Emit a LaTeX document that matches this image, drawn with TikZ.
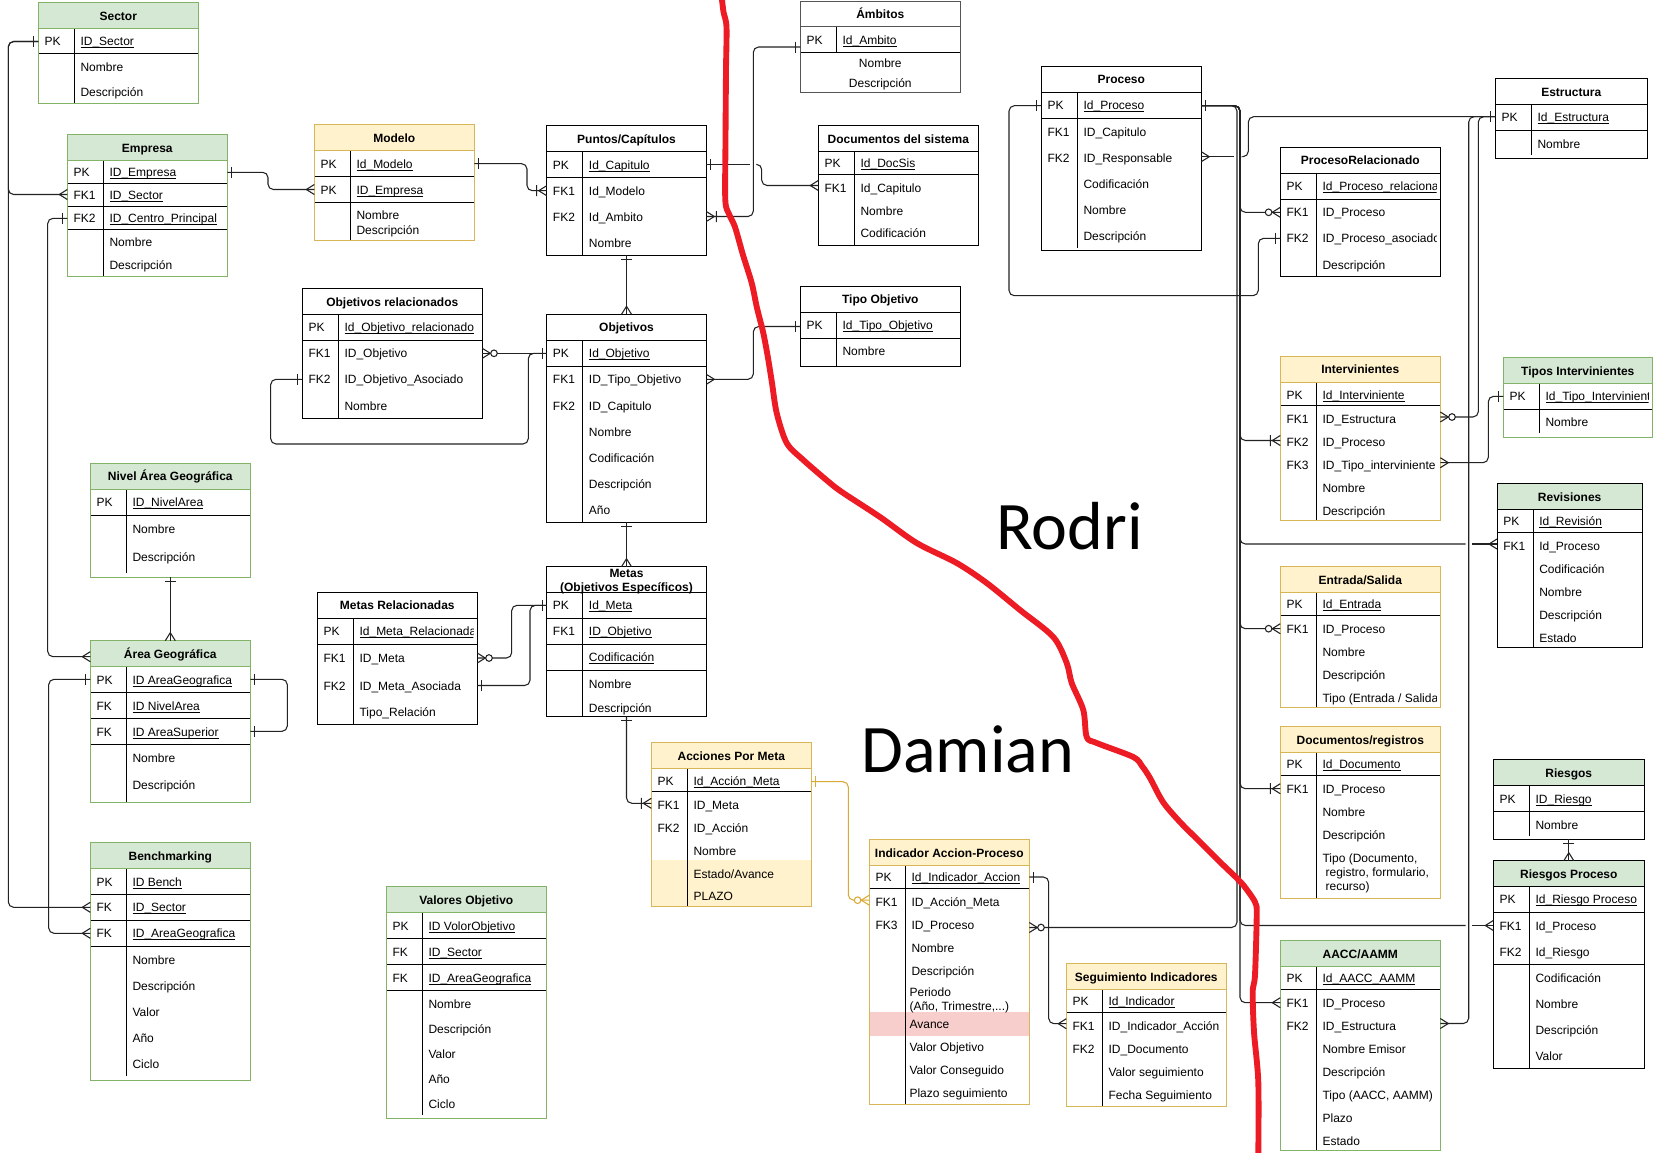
\documentclass[tikz,border=0pt]{standalone}
\usepackage{fontspec}
\setmainfont{Liberation Sans}
\newfontfamily\bigfont{Carlito}
\usetikzlibrary{fit}
\definecolor{grnF}{HTML}{D5E8D4}
\definecolor{grnS}{HTML}{82B366}
\definecolor{ylwF}{HTML}{FFF2CC}
\definecolor{ylwS}{HTML}{D6B656}
\definecolor{pnkF}{HTML}{F8CECC}
\definecolor{cc}{HTML}{222222}
\definecolor{goldC}{HTML}{D9A933}
\definecolor{redL}{HTML}{ED1C24}
\definecolor{ambC}{HTML}{555555}
\newcounter{nd}
\newcommand\erNode[3]{\stepcounter{nd}\node[#1] (n\arabic{nd}) at #2 {#3};}
\newcommand\erUl[1]{\underline{\smash{#1}}}
\newcommand\erRow[3]{\erNode{fld}{({\eL+6},{#1+4.5})}{#2}\erNode{fld}{({\eL+42},{#1+4.5})}{#3}}
\newcommand\erRowU[3]{\erRow{#1}{#2}{\erUl{#3}}}
\newcommand\erClip[4]{\erNode{fld}{({\eL+6},{#1+4.5})}{#2}\begin{scope}\clip ({\eL+38},{#1-14}) rectangle (#4,{#1+14});\erNode{fld}{({\eL+42},{#1+4.5})}{#3}\end{scope}}
\newcommand\erTxt[3]{\erNode{fld}{(#1,{#2+4.5})}{#3}}
\newcommand\erSep[1]{\draw[sepl] (\eL,#1) -- (\eR,#1);}
\newcommand\erEnt[9]{%
 \def\eL{#2}\def\eR{#4}\def\divend{#5}%
 \fill[white] (#2,#3) rectangle (#4,#5);
 \path[#7head] (#2,#3) rectangle (#4,#6);
 \node[fit={(#2,#3)(#4,#5)}, inner sep=0pt, outer sep=0pt] (#1) {};
 \node[ttl] (#1-t) at ({(#2+#4)/2},{(#3+#6)/2+4.5}) {#8};
 #9
 \draw[sepl] ({#2+36},#6) -- ({#2+36},\divend);
 \draw[#7border, line width=0.75pt] (#2,#6) -- (#4,#6);
 \draw[#7border, line width=0.75pt] (#2,#3) rectangle (#4,#5);
}
\tikzset{
 fld/.style={anchor=base west, inner sep=0pt, font=\fontsize{9}{11}\selectfont},
 fldc/.style={anchor=base, inner sep=0pt, font=\fontsize{9}{11}\selectfont},
 ttl/.style={anchor=base, inner sep=0pt, font=\fontsize{9}{11}\selectfont\bfseries},
 sepl/.style={draw=black, line width=0.75pt},
 Gborder/.style={draw=grnS}, Ghead/.style={fill=grnF},
 Yborder/.style={draw=ylwS}, Yhead/.style={fill=ylwF},
 Kborder/.style={draw=black}, Khead/.style={fill=white},
 Aborder/.style={draw=ambC}, Ahead/.style={fill=white},
 Rborder/.style={draw=black}, Rhead/.style={fill=grnF},
 conn/.style={draw=cc, line width=0.8pt, rounded corners=4pt},
 connG/.style={draw=goldC, line width=0.8pt, rounded corners=4pt},
 pk/.style={color=cc, line width=0.8pt},
 pkG/.style={color=goldC, line width=0.8pt},
 redline/.style={draw=redL, line width=4.4pt, line cap=round, line join=round},
 pics/one/.style={code={\draw (-4.5,-5.5)--(-4.5,5.5);}},
 pics/many/.style={code={\draw (-8,0)--(0,-5) (-8,0)--(0,5);}},
 pics/zmany/.style={code={\draw (-8,0)--(0,-5) (-8,0)--(0,5); \filldraw[fill=white] (-11.7,0) circle[radius=3.3];}},
 pics/omany/.style={code={\draw (-8,0)--(0,-5) (-8,0)--(0,5) (-10,-5.5)--(-10,5.5);}},
}
\begin{document}
\begin{tikzpicture}[x=0.75pt,y=-0.75pt]
\useasboundingbox (0,0) rectangle (1653,1153);
\fill[white] (0,0) rectangle (1653,1153);

% ---------------- tables ----------------
\erEnt{sector}{38.3}{2.7}{198.3}{103.3}{28.7}{G}{Sector}{%
 \erRowU{41}{PK}{ID\_Sector}\erSep{53.3}\erRow{66.7}{}{Nombre}\erRow{91.7}{}{Descripción}}

\erEnt{empresa}{67.3}{134.7}{227.3}{276}{160.7}{G}{Empresa}{%
 \erRowU{172}{PK}{ID\_Empresa}\erSep{183.3}\erRowU{195}{FK1}{ID\_Sector}\erSep{206.7}%
 \erRowU{218}{FK2}{ID\_Centro\_Principal}\erSep{229.3}\erRow{241.7}{}{Nombre}\erRow{264.7}{}{Descripción}}

\erEnt{modelo}{314.3}{124.7}{474.3}{240}{150.7}{Y}{Modelo}{%
 \erRowU{163.7}{PK}{Id\_Modelo}\erSep{176.7}\erRowU{189.5}{PK}{ID\_Empresa}\erSep{202.3}%
 \erRow{215.3}{}{Nombre}\erRow{229.5}{}{Descripción}}

\erEnt{puntos}{546.7}{125.7}{706.3}{255.3}{151.7}{K}{Puntos/Capítulos}{%
 \erRowU{164.5}{PK}{Id\_Capitulo}\erSep{177.3}\erRow{190.7}{FK1}{Id\_Modelo}%
 \erRow{216.7}{FK2}{Id\_Ambito}\erRow{242.7}{}{Nombre}}

\erEnt{ambitos}{800.3}{1.5}{960.3}{92.7}{26.7}{A}{Ámbitos}{%
 \def\divend{52.3}\erRowU{39.5}{PK}{Id\_Ambito}\erSep{52.3}%
 \erNode{fldc}{(880.3,{63.3+4.5})}{Nombre}\erNode{fldc}{(880.3,{83.3+4.5})}{Descripción}}

\erEnt{docsis}{818.3}{125.7}{978.3}{245.7}{151.7}{K}{Documentos del sistema}{%
 \erRowU{163}{PK}{Id\_DocSis}\erSep{174.3}\erRow{187.7}{FK1}{Id\_Capitulo}%
 \erRow{210.7}{}{Nombre}\erRow{233.3}{}{Codificación}}

\erEnt{tipoobj}{800.3}{286.3}{960.3}{366.7}{312.3}{K}{Tipo Objetivo}{%
 \erRowU{325.3}{PK}{Id\_Tipo\_Objetivo}\erSep{338.3}\erRow{351.3}{}{Nombre}}

\erEnt{objrel}{302.3}{288.7}{482.3}{418.3}{314.3}{K}{Objetivos relacionados}{%
 \erRowU{327.3}{PK}{Id\_Objetivo\_relacionado}\erSep{340.3}\erRow{353.3}{FK1}{ID\_Objetivo}%
 \erRow{379.3}{FK2}{ID\_Objetivo\_Asociado}\erRow{405.7}{}{Nombre}}

\erEnt{objetivos}{546.7}{314.3}{706.3}{522.3}{340.3}{K}{Objetivos}{%
 \erRowU{353.3}{PK}{Id\_Objetivo}\erSep{366.3}\erRow{379.3}{FK1}{ID\_Tipo\_Objetivo}%
 \erRow{405.7}{FK2}{ID\_Capitulo}\erRow{431.7}{}{Nombre}\erRow{457.7}{}{Codificación}%
 \erRow{483.7}{}{Descripción}\erRow{509.7}{}{Año}}

\erEnt{metas}{546.7}{566.7}{706.3}{716.3}{592.3}{K}{}{%
 \node[ttl] (metas-t1) at (626.5,{572.7+4.3}) {Metas};
 \node[ttl] (metas-t2) at (626.5,{586.7+4.3}) {(Objetivos Específicos)};
 \erRowU{605.3}{PK}{Id\_Meta}\erSep{618.3}\erRowU{631.3}{FK1}{ID\_Objetivo}\erSep{644.3}%
 \erRowU{657.3}{}{Codificación}\erSep{670.3}\erRow{683.7}{}{Nombre}\erRow{708.2}{}{Descripción}}

\erEnt{metasrel}{317.3}{592.3}{477.3}{724}{618.3}{K}{Metas Relacionadas}{%
 \erClip{631.3}{PK}{\erUl{Id\_Meta\_Relacionada}}{473.3}\erSep{644.3}%
 \erRow{657.7}{FK1}{ID\_Meta}\erRow{685.7}{FK2}{ID\_Meta\_Asociada}\erRow{711.7}{}{Tipo\_Relación}}

\erEnt{nivel}{90.3}{463.3}{250.3}{577.3}{489.3}{G}{Nivel Área Geográfica}{%
 \def\divend{572.7}\erRowU{502.3}{PK}{ID\_NivelArea}\erSep{515.3}%
 \erRow{528.7}{}{Nombre}\erRow{556.7}{}{Descripción}}

\erEnt{area}{90.3}{640.7}{250.3}{802.3}{666.7}{G}{Área Geográfica}{%
 \erRowU{679.7}{PK}{ID AreaGeografica}\erSep{692.7}\erRowU{705.7}{FK}{ID NivelArea}\erSep{718.7}%
 \erRowU{731.7}{FK}{ID AreaSuperior}\erSep{744.7}\erRow{757.7}{}{Nombre}\erRow{785.2}{}{Descripción}}

\erEnt{bench}{90.3}{842.7}{250.3}{1080.3}{868.7}{G}{Benchmarking}{%
 \def\divend{1076}\erRowU{881.5}{PK}{ID Bench}\erSep{894.3}\erRowU{907.3}{FK}{ID\_Sector}\erSep{920.3}%
 \erRowU{933.3}{FK}{ID\_AreaGeografica}\erSep{946.3}\erRow{959.7}{}{Nombre}\erRow{985.7}{}{Descripción}%
 \erRow{1011.7}{}{Valor}\erRow{1037.7}{}{Año}\erRow{1063.7}{}{Ciclo}}

\erEnt{valores}{386.3}{886.7}{546.3}{1118.3}{912.7}{G}{Valores Objetivo}{%
 \def\divend{1115}\erRowU{925.7}{PK}{ID VolorObjetivo}\erSep{938.7}\erRowU{951.7}{FK}{ID\_Sector}\erSep{964.7}%
 \erRowU{977.7}{FK}{ID\_AreaGeografica}\erSep{990.7}\erRow{1003.7}{}{Nombre}\erRow{1028.7}{}{Descripción}%
 \erRow{1053.7}{}{Valor}\erRow{1078.7}{}{Año}\erRow{1103.7}{}{Ciclo}}

\erEnt{acciones}{651.3}{742.7}{811.3}{906.3}{768.3}{Y}{Acciones Por Meta}{%
 \fill[ylwF] (\eL,860.3) rectangle (\eR,906.3);
 \erRowU{780.5}{PK}{Id\_Acción\_Meta}\erSep{791.3}\erRow{804.7}{FK1}{ID\_Meta}\erRow{827.7}{FK2}{ID\_Acción}%
 \erRow{850.7}{}{Nombre}\erRow{873.7}{}{Estado/Avance}\erRow{896.3}{}{PLAZO}}

\erEnt{indicador}{869.3}{839.7}{1029.3}{1104.3}{865.7}{Y}{Indicador Accion-Proceso}{%
 \fill[pnkF] (\eL,1012.3) rectangle (\eR,1035.7);
 \erRowU{877.2}{PK}{Id\_Indicador\_Accion}\erSep{888.7}\erRow{901.7}{FK1}{ID\_Acción\_Meta}%
 \erRow{924.7}{FK3}{ID\_Proceso}\erRow{947.7}{}{Nombre}\erRow{970.7}{}{Descripción}%
 \erTxt{909.3}{991.7}{Periodo}\erTxt{909.3}{1005.7}{(Año, Trimestre,...)}%
 \erTxt{909.3}{1023.7}{Avance}\erTxt{909.3}{1046.7}{Valor Objetivo}%
 \erTxt{909.3}{1069.7}{Valor Conseguido}\erTxt{909.3}{1092.7}{Plazo seguimiento}}

\erEnt{seguim}{1066.3}{963.7}{1226.3}{1106.3}{989.7}{Y}{Seguimiento Indicadores}{%
 \erRowU{1001.2}{PK}{Id\_Indicador}\erSep{1012.7}\erRow{1025.7}{FK1}{ID\_Indicador\_Acción}%
 \erRow{1048.7}{FK2}{ID\_Documento}\erRow{1071.7}{}{Valor seguimiento}\erRow{1094.7}{}{Fecha Seguimiento}}

\erEnt{proceso}{1041.3}{66.3}{1201.3}{250}{92.3}{K}{Proceso}{%
 \def\divend{248}\erRowU{105.3}{PK}{Id\_Proceso}\erSep{118.3}\erRow{131.7}{FK1}{ID\_Capitulo}%
 \erRow{157.7}{FK2}{ID\_Responsable}\erRow{183.7}{}{Codificación}\erRow{209.7}{}{Nombre}\erRow{235.7}{}{Descripción}}

\erEnt{procrel}{1280.3}{147.3}{1440.3}{276}{173.3}{K}{ProcesoRelacionado}{%
 \erClip{186.3}{PK}{\erUl{Id\_Proceso\_relacionado}}{1436.5}\erSep{199.3}\erRow{212.3}{FK1}{ID\_Proceso}%
 \erClip{238.3}{FK2}{ID\_Proceso\_asociado}{1436.5}\erRow{264.7}{}{Descripción}}

\erEnt{estructura}{1495.3}{78.7}{1647.3}{158.3}{104.3}{K}{Estructura}{%
 \def\divend{155}\erRowU{117.3}{PK}{Id\_Estructura}\erSep{130.3}\erRow{143.7}{}{Nombre}}

\erEnt{interv}{1280.3}{356.3}{1440.3}{520.3}{382.3}{Y}{Intervinientes}{%
 \erRowU{395}{PK}{Id\_Interviniente}\erSep{405.3}\erRow{418.7}{FK1}{ID\_Estructura}%
 \erRow{441.7}{FK2}{ID\_Proceso}\erRow{464.7}{FK3}{ID\_Tipo\_interviniente}%
 \erRow{487.7}{}{Nombre}\erRow{510.7}{}{Descripción}}

\erEnt{tiposint}{1503.3}{357.7}{1652.3}{437}{383.3}{G}{Tipos Intervinientes}{%
 \def\divend{433}\erClip{396.3}{PK}{\erUl{Id\_Tipo\_Interviniente}}{1648.5}\erSep{409.7}\erRow{422.3}{}{Nombre}}

\erEnt{revis}{1497}{483.7}{1642.3}{647}{509.7}{R}{Revisiones}{%
 \erRowU{521.2}{PK}{Id\_Revisión}\erSep{532.7}\erRow{545.7}{FK1}{Id\_Proceso}\erRow{568.7}{}{Codificación}%
 \erRow{591.7}{}{Nombre}\erRow{614.7}{}{Descripción}\erRow{637.7}{}{Estado}}

\erEnt{entrada}{1280.3}{566.7}{1440.3}{707.3}{592.3}{Y}{Entrada/Salida}{%
 \erRowU{603.8}{PK}{Id\_Entrada}\erSep{615.3}\erRow{628.7}{FK1}{ID\_Proceso}\erRow{651.7}{}{Nombre}%
 \erRow{674.7}{}{Descripción}\erClip{697.7}{}{Tipo (Entrada / Salida)}{1436.7}}

\erEnt{docreg}{1280.3}{726.7}{1440.3}{898.3}{752.3}{Y}{Documentos/registros}{%
 \erRowU{763.8}{PK}{Id\_Documento}\erSep{775.3}\erRow{788.7}{FK1}{ID\_Proceso}\erRow{811.7}{}{Nombre}%
 \erRow{834.7}{}{Descripción}\erTxt{1322.3}{857.7}{Tipo (Documento,}%
 \erTxt{1325.3}{871.7}{registro, formulario,}\erTxt{1325.3}{885.7}{recurso)}}

\erEnt{riesgos}{1493.3}{759.3}{1644.3}{839.3}{785.7}{R}{Riesgos}{%
 \def\divend{836}\erRowU{798.7}{PK}{ID\_Riesgo}\erSep{811.7}\erRow{824.7}{}{Nombre}}

\erEnt{riesgosp}{1493.3}{860.7}{1644.3}{1068.3}{886.3}{R}{Riesgos Proceso}{%
 \erRowU{899.3}{PK}{Id\_Riesgo Proceso}\erSep{912.3}\erRow{925.7}{FK1}{Id\_Proceso}%
 \erRow{951.7}{FK2}{Id\_Riesgo}\erSep{964.7}\erRow{977.7}{}{Codificación}\erRow{1003.7}{}{Nombre}%
 \erRow{1029.7}{}{Descripción}\erRow{1055.7}{}{Valor}}

\erEnt{aacc}{1280.3}{940.7}{1440.3}{1150.3}{966.3}{G}{AACC/AAMM}{%
 \erRowU{978}{PK}{Id\_AACC\_AAMM}\erSep{989.7}\erRow{1002.7}{FK1}{ID\_Proceso}\erRow{1025.7}{FK2}{ID\_Estructura}%
 \erRow{1048.7}{}{Nombre Emisor}\erRow{1071.7}{}{Descripción}\erRow{1094.7}{}{Tipo (AACC, AAMM)}%
 \erRow{1117.7}{}{Plazo}\erRow{1140.7}{}{Estado}}

% ---------------- connectors ----------------
% Sector
\draw[conn] (sector.west |- 0,41.5) -- (8.3,41.5) -- (8.3,194.5) -- (empresa.west |- 0,194.5);
\draw[conn] (sector.west |- 0,41.5) -- (8.3,41.5) -- (8.3,907.3) -- (bench.west |- 0,907.3);
\pic[pk] at (sector.west |- 0,41.5) {one};
\pic[pk] at (empresa.west |- 0,194.5) {many};
\pic[pk] at (bench.west |- 0,907.3) {many};
% Empresa FK2 -> Area
\draw[conn] (empresa.west |- 0,218.3) -- (47.7,218.3) -- (47.7,656.7) -- (area.west |- 0,656.7);
\pic[pk] at (empresa.west |- 0,218.3) {one};
\pic[pk] at (area.west |- 0,656.7) {many};
% Area PK -> Bench
\draw[conn] (area.west |- 0,679.3) -- (48.7,679.3) -- (48.7,933.3) -- (bench.west |- 0,933.3);
\pic[pk] at (area.west |- 0,679.3) {one};
\pic[pk] at (bench.west |- 0,933.3) {many};
% Area self
\draw[conn] (area.east |- 0,679.3) -- (287.3,679.3) -- (287.3,731.3) -- (area.east |- 0,731.3);
\pic[pk,rotate=180] at (area.east |- 0,679.3) {one};
\pic[pk,rotate=180] at (area.east |- 0,731.3) {one};
% Nivel - Area
\draw[conn] (nivel.south) -- (area.north);
\pic[pk,rotate=90] at (nivel.south) {one};
\pic[pk,rotate=-90] at (area.north) {many};
% Empresa - Modelo
\draw[conn] (empresa.east |- 0,172.3) -- (268,172.3) -- (268,189.5) -- (modelo.west |- 0,189.5);
\pic[pk,rotate=180] at (empresa.east |- 0,172.3) {one};
\pic[pk] at (modelo.west |- 0,189.5) {many};
% Modelo - Puntos
\draw[conn] (modelo.east |- 0,163.7) -- (527,163.7) -- (527,190.7) -- (puntos.west |- 0,190.7);
\pic[pk,rotate=180] at (modelo.east |- 0,163.7) {one};
\pic[pk] at (puntos.west |- 0,190.7) {omany};
% Puntos - Documentos del sistema
\draw[conn] (puntos.east |- 0,164.3) -- (750.3,164.3);
\draw[conn] (756.3,164.3) -- (761.7,164.3) -- (761.7,185.5) -- (docsis.west |- 0,185.5);
\pic[pk,rotate=180] at (puntos.east |- 0,164.3) {one};
\pic[pk] at (docsis.west |- 0,185.5) {many};
% Ambitos - Puntos
\draw[conn] (ambitos.west |- 0,47) -- (753.3,47) -- (753.3,216.5) -- (puntos.east |- 0,216.5);
\pic[pk] at (ambitos.west |- 0,47) {one};
\pic[pk,rotate=180] at (puntos.east |- 0,216.5) {omany};
% Puntos - Objetivos
\draw[conn] (puntos.south) -- (objetivos.north);
\pic[pk,rotate=90] at (puntos.south) {one};
\pic[pk,rotate=-90] at (objetivos.north) {many};
% Objetivos relacionados
\draw[conn] (objrel.east |- 0,353.3) -- (objetivos.west |- 0,353.3);
\draw[conn] (objrel.west |- 0,379.3) -- (270.7,379.3) -- (270.7,444) -- (528.3,444) -- (528.3,353.3) -- (objetivos.west |- 0,353.3);
\pic[pk,rotate=180] at (objrel.east |- 0,353.3) {zmany};
\pic[pk] at (objetivos.west |- 0,353.3) {one};
\pic[pk] at (objrel.west |- 0,379.3) {one};
% Objetivos - Tipo Objetivo
\draw[conn] (objetivos.east |- 0,379.3) -- (753.3,379.3) -- (753.3,326.5) -- (tipoobj.west |- 0,326.5);
\pic[pk,rotate=180] at (objetivos.east |- 0,379.3) {many};
\pic[pk] at (tipoobj.west |- 0,326.5) {one};
% Objetivos - Metas
\draw[conn] (objetivos.south) -- (metas.north);
\pic[pk,rotate=90] at (objetivos.south) {one};
\pic[pk,rotate=-90] at (metas.north) {many};
% Metas relacionadas
\draw[conn] (metasrel.east |- 0,658) -- (511.7,658) -- (511.7,605.3) -- (metas.west |- 0,605.3);
\draw[conn] (metasrel.east |- 0,685.5) -- (530,685.5) -- (530,605.3) -- (metas.west |- 0,605.3);
\pic[pk,rotate=180] at (metasrel.east |- 0,658) {zmany};
\pic[pk,rotate=180] at (metasrel.east |- 0,685.5) {one};
\pic[pk] at (metas.west |- 0,605.3) {one};
% Metas - Acciones
\draw[conn] (metas.south) -- (626.5,803.3) -- (acciones.west |- 0,803.3);
\pic[pk,rotate=90] at (metas.south) {one};
\pic[pk] at (acciones.west |- 0,803.3) {omany};
% Acciones - Indicador
\draw[connG] (acciones.east |- 0,781.7) -- (848.3,781.7) -- (848.3,900.2) -- (indicador.west |- 0,900.2);
\pic[pkG,rotate=180] at (acciones.east |- 0,781.7) {one};
\pic[pkG] at (indicador.west |- 0,900.2) {zmany};
% Indicador - Seguimiento
\draw[conn] (indicador.east |- 0,877) -- (1048.7,877) -- (1048.7,1023.7) -- (seguim.west |- 0,1023.7);
\pic[pk,rotate=180] at (indicador.east |- 0,877) {one};
\pic[pk] at (seguim.west |- 0,1023.7) {many};
% Proceso trunk
\draw[conn] (proceso.east |- 0,105.7) -- (1237,105.7) -- (1237,927.5) -- (indicador.east |- 0,927.5);
\draw[conn] (proceso.east |- 0,105.7) -- (1240,105.7) -- (1240,1002.7) -- (aacc.west |- 0,1002.7);
\draw[conn] (proceso.east |- 0,105.7) -- (1240,105.7) -- (1240,212.3) -- (procrel.west |- 0,212.3);
\draw[conn] (proceso.east |- 0,105.7) -- (1240,105.7) -- (1240,440.5) -- (interv.west |- 0,440.5);
\draw[conn] (proceso.east |- 0,105.7) -- (1240,105.7) -- (1240,544) -- (1465.5,544);
\draw[conn] (1471.8,544) -- (revis.west |- 0,544);
\draw[conn] (proceso.east |- 0,105.7) -- (1240,105.7) -- (1240,628.7) -- (entrada.west |- 0,628.7);
\draw[conn] (proceso.east |- 0,105.7) -- (1240,105.7) -- (1240,788.7) -- (docreg.west |- 0,788.7);
\draw[conn] (proceso.east |- 0,105.7) -- (1240,105.7) -- (1240,925.5) -- (1465.5,925.5);
\draw[conn] (1471.8,925.5) -- (riesgosp.west |- 0,925.5);
\pic[pk,rotate=180] at (proceso.east |- 0,105.7) {one};
\pic[pk,rotate=180] at (indicador.east |- 0,927.5) {zmany};
\pic[pk] at (aacc.west |- 0,1002.7) {many};
\pic[pk] at (procrel.west |- 0,212.3) {zmany};
\pic[pk] at (interv.west |- 0,440.5) {omany};
\pic[pk] at (revis.west |- 0,544) {many};
\pic[pk] at (entrada.west |- 0,628.7) {zmany};
\pic[pk] at (docreg.west |- 0,788.7) {omany};
\pic[pk] at (riesgosp.west |- 0,925.5) {many};
% Proceso FK2 - Estructura
\draw[conn] (proceso.east |- 0,156.7) -- (1234,156.7);
\draw[conn] (1243.3,156.7) -- (1248.3,156.7) -- (1248.3,116.7) -- (estructura.west |- 0,116.7);
\pic[pk,rotate=180] at (proceso.east |- 0,156.7) {many};
\pic[pk] at (estructura.west |- 0,116.7) {one};
% Estructura - Intervinientes / AACC
\draw[conn] (estructura.west |- 0,116.7) -- (1478.3,116.7) -- (1478.3,417) -- (interv.east |- 0,417);
\draw[conn] (estructura.west |- 0,116.7) -- (1468.7,116.7) -- (1468.7,1023.5) -- (aacc.east |- 0,1023.5);
\pic[pk,rotate=180] at (interv.east |- 0,417) {zmany};
\pic[pk,rotate=180] at (aacc.east |- 0,1023.5) {many};
% Tipos Intervinientes - Intervinientes
\draw[conn] (tiposint.west |- 0,396.3) -- (1488.3,396.3) -- (1488.3,462.7) -- (interv.east |- 0,462.7);
\pic[pk] at (tiposint.west |- 0,396.3) {one};
\pic[pk,rotate=180] at (interv.east |- 0,462.7) {many};
% ProcesoRelacionado FK2 - Proceso PK
\draw[conn] (procrel.west |- 0,238.3) -- (1258.3,238.3) -- (1258.3,295.7) -- (1009,295.7) -- (1009,105.7) -- (proceso.west |- 0,105.7);
\pic[pk] at (procrel.west |- 0,238.3) {one};
\pic[pk] at (proceso.west |- 0,105.7) {one};
% Riesgos - Riesgos Proceso
\draw[conn] (riesgos.south) -- (riesgosp.north);
\pic[pk,rotate=90] at (riesgos.south) {one};
\pic[pk,rotate=-90] at (riesgosp.north) {many};

% ---------------- hand drawn split ----------------
\draw[redline] plot[smooth, tension=0.5] coordinates {(721.7,-3) (723.5,12) (726.5,27) (726,70) (725.5,140) (725.3,200) (729,214) (735,227) (743,255) (751.7,283) (757,308) (763.3,333) (768,358) (772,383) (776.7,413) (786.7,443) (803.3,460) (830,483) (843.3,493) (880,517) (916.7,543) (956.7,563) (986.7,583) (1020,610) (1053.3,637) (1066.7,663) (1071.7,683) (1083.3,710) (1086.7,737) (1096.7,743) (1133.3,757) (1142,766) (1150,778) (1163,802) (1180,822) (1200,842) (1220,862) (1236.7,878) (1243.3,885) (1255,902) (1256.7,915) (1255,975) (1252.7,992) (1254,1032) (1258.3,1082) (1258.3,1156)};
\node[anchor=base west, inner sep=0pt, font=\bigfont\fontsize{51}{56}\selectfont] (rodri) at (996,549) {Rodri};
\node[anchor=base west, inner sep=0pt, font=\bigfont\fontsize{51}{56}\selectfont] (damian) at (861,772) {Damian};
\end{tikzpicture}
\end{document}
